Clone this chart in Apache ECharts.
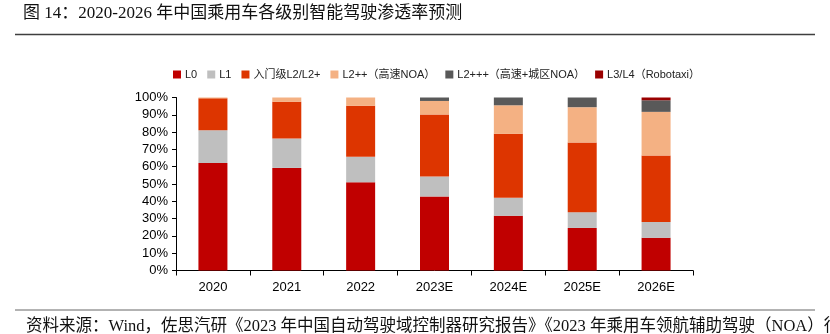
<!DOCTYPE html>
<html>
<head>
<meta charset="utf-8">
<style>
  html, body { margin: 0; padding: 0; background: #fff; }
  #chart { width: 830px; height: 334px; }
</style>
<script src="https://cdn.jsdelivr.net/npm/echarts@6/dist/echarts.min.js"></script>
</head>
<body>
<div id="chart"></div>
<script>
// Years on the x axis
const years = ['2020', '2021', '2022', '2023E', '2024E', '2025E', '2026E'];

// Penetration share (%) of each driving-automation level
const l0Share      = [62.2, 59.3, 51.0, 42.8, 31.6, 24.6, 18.9];
const l1Share      = [18.9, 17.0, 14.7, 11.5, 10.4,  9.1,  9.2];
const l2EntryShare = [18.4, 21.2, 29.5, 35.9, 37.0, 40.3, 38.4];
const l2ppShare    = [ 0.5,  2.5,  4.8,  7.8, 16.5, 20.4, 25.2];
const l2pppShare   = [ 0,    0,    0,    2.0,  4.5,  5.6,  6.7];
const l3l4Share    = [ 0,    0,    0,    0,    0,    0,    1.6];

const seriesNames = ['L0', 'L1', '入门级L2/L2+', 'L2++（高速NOA）', 'L2+++（高速+城区NOA）', 'L3/L4（Robotaxi）'];
const seriesData  = [l0Share, l1Share, l2EntryShare, l2ppShare, l2pppShare, l3l4Share];
const seriesColors = ['#C00000', '#BFBFBF', '#DD3500', '#F4B183', '#595959', '#9A0000'];

const titleText = '图 14：2020-2026 年中国乘用车各级别智能驾驶渗透率预测';
const sourceText = '资料来源：Wind，佐思汽研《2023 年中国自动驾驶域控制器研究报告》《2023 年乘用车领航辅助驾驶（NOA）行业研究报告》';

const chart = echarts.init(document.getElementById('chart'), null, { renderer: 'canvas' });

const labelFont = 'Liberation Sans, Arial, "Noto Sans CJK SC", sans-serif';

chart.setOption({
  animation: false,
  backgroundColor: '#ffffff',
  graphic: [
    {
      type: 'text', left: 23, top: 5,
      style: { text: titleText, font: '17px "Liberation Serif", "Noto Sans CJK SC", serif', fill: '#111' }
    },
    {
      type: 'line', shape: { x1: 15, y1: 34.5, x2: 815, y2: 34.5 },
      style: { stroke: '#3f3f3f', lineWidth: 1.5 }
    },
    {
      type: 'line', shape: { x1: 15, y1: 310, x2: 815, y2: 310 },
      style: { stroke: '#666', lineWidth: 1 }
    },
    {
      type: 'text', left: 26, top: 318,
      style: { text: sourceText, font: '16.5px "Liberation Serif", "Noto Sans CJK SC", serif', fill: '#111' }
    }
  ],
  legend: {
    data: seriesNames,
    left: 168,
    top: 64,
    itemWidth: 8,
    itemHeight: 8,
    itemGap: 10,
    icon: 'rect',
    textStyle: { fontSize: 11, color: '#222', fontFamily: labelFont, padding: [0, 0, 0, -1] }
  },
  grid: { left: 176, right: 137, top: 97.5, bottom: 63.5, containLabel: false },
  xAxis: {
    type: 'category',
    data: years,
    axisLine: { lineStyle: { color: '#000', width: 1 } },
    axisTick: { show: true, alignWithLabel: false, length: 5, lineStyle: { color: '#000' } },
    axisLabel: { color: '#000', fontSize: 13, fontFamily: labelFont, margin: 10 }
  },
  yAxis: {
    type: 'value',
    min: 0,
    max: 100,
    interval: 10,
    axisLine: { show: true, lineStyle: { color: '#000', width: 1 } },
    axisTick: { show: true, length: 4, lineStyle: { color: '#000' } },
    splitLine: { show: false },
    axisLabel: { formatter: '{value}%', color: '#000', fontSize: 13, fontFamily: labelFont, margin: 8 }
  },
  series: seriesNames.map((name, i) => ({
    name: name,
    type: 'bar',
    stack: 'share',
    barWidth: 29,
    data: seriesData[i],
    itemStyle: { color: seriesColors[i] }
  }))
});
</script>
</body>
</html>
